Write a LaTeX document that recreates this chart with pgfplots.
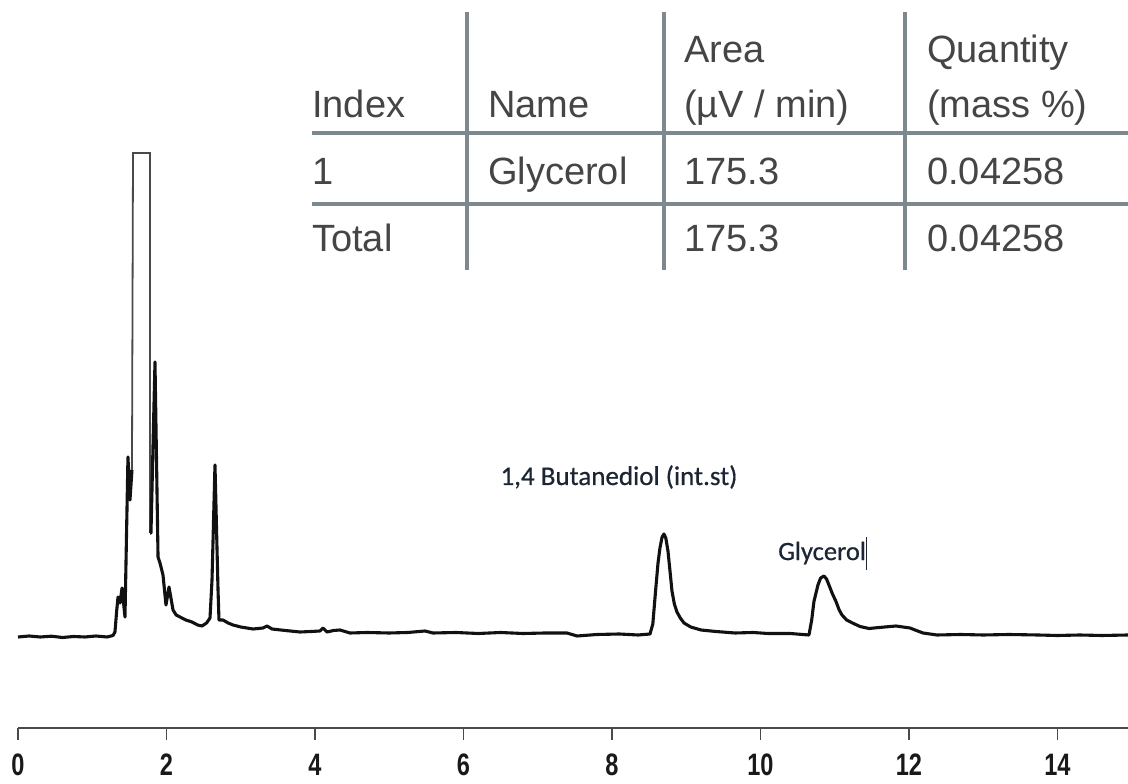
\documentclass[border=0pt]{standalone}
\usepackage{fontspec}
\setmainfont{Liberation Sans}
\newfontfamily\narrowfont[FakeStretch=0.76]{Liberation Sans Bold}
\newfontfamily\carlito[FakeBold=0.6]{Carlito}
\usepackage{pgfplots}
\pgfplotsset{compat=1.18}

\definecolor{tracecol}{HTML}{111111}
\definecolor{gridgray}{HTML}{7D898E}
\definecolor{tabtext}{HTML}{454545}
\definecolor{annot}{HTML}{1C2533}
\definecolor{axgray}{HTML}{4A4A4A}

\begin{document}
\begin{tikzpicture}[x=1pt,y=1pt]

\begin{axis}[
    at={(18pt,56pt)}, anchor=south west,
    scale only axis,
    width=1110pt, height=728pt,
    xmin=0, xmax=14.95,
    ymin=0, ymax=728,
    axis x line*=bottom,
    axis y line=none,
    ytick=\empty,
    xtick={0,2,...,14},
    tick align=outside,
    major tick length=12pt,
    x axis line style={axgray, line width=2.4pt},
    xtick style={axgray, line width=1.1pt},
    xticklabel style={font=\narrowfont\fontsize{31}{31}\selectfont, text=black!90, anchor=base, yshift=-36pt},
    /pgf/number format/assume math mode=true,
    clip=false,
]
% chromatogram trace (x: min, y: detector signal, arbitrary units)
\addplot [tracecol, line width=3.1pt, line join=round] coordinates {
  (0,91) (0.15,92) (0.3,91) (0.45,91.8) (0.6,90.5) (0.75,91.5) (0.9,91)
  (1.05,92) (1.2,91) (1.28,92.5) (1.306,96)
  (1.33,118) (1.347,131) (1.374,125) (1.401,140) (1.441,111)
  (1.481,271) (1.508,228) (1.535,258)
};
\addplot [axgray, line width=1.8pt, line join=miter] coordinates {
  (1.535,258) (1.549,575) (1.778,575) (1.778,195)
};
\addplot [tracecol, line width=3.1pt, line join=round] coordinates {
  (1.778,195) (1.791,195) (1.845,366) (1.886,171) (1.912,165) (1.953,153)
  (1.993,123) (2.034,141) (2.088,118) (2.13,113) (2.182,111) (2.26,108)
  (2.343,106) (2.42,103) (2.478,102) (2.54,105)
  (2.586,110) (2.613,148) (2.653,263) (2.694,138) (2.707,108) (2.761,108)
  (2.83,105) (2.896,103) (3.0,101) (3.165,99) (3.300,100) (3.354,102) (3.421,99)
  (3.6,97.5) (3.798,96) (3.95,96.5)
  (4.067,97) (4.108,100) (4.162,96) (4.25,97.5) (4.337,98) (4.471,95)
  (4.7,95.5) (5.0,95) (5.25,95.5)
  (5.481,97) (5.589,95) (5.9,95.5) (6.2,94.5) (6.5,95.5) (6.8,94.5) (7.1,95)
  (7.394,95) (7.529,92) (7.8,93.5) (8.1,94) (8.35,93) (8.512,94)
  (8.55,104) (8.587,137) (8.62,165) (8.646,180) (8.675,191) (8.700,194)
  (8.725,190) (8.754,177) (8.78,158) (8.808,137) (8.84,124)
  (8.875,116) (8.92,110) (8.970,105) (9.06,101) (9.199,98) (9.4,96.5) (9.657,95)
  (9.9,95.5) (10.101,94.5) (10.4,94.5) (10.653,93)
  (10.69,108) (10.720,126.5) (10.774,143) (10.81,150) (10.855,152) (10.89,149)
  (10.922,143) (10.97,134) (11.017,126.5) (11.06,118)
  (11.098,113) (11.16,108) (11.239,105) (11.34,101.5) (11.461,99.5) (11.6,100.5)
  (11.825,102) (12.013,100) (12.1,97.5)
  (12.189,95) (12.377,93) (12.7,93.5) (13.0,93) (13.35,93.5) (13.738,93)
  (14.0,92.5) (14.3,93) (14.6,92.5) (14.95,93)
};
\end{axis}

% peak annotations
\node[font=\carlito\fontsize{27}{27}\selectfont, text=annot] at (619,307) {1,4 Butanediol (int.st)};
\node[font=\carlito\fontsize{26.5}{26.5}\selectfont, text=annot, anchor=west, inner sep=0pt] at (778,231) {Glycerol};
\draw[annot, line width=1pt] (866,214) -- (866,247);

% result table
\begin{scope}[gridgray, line width=3.5pt]
  \draw (312,651) -- (1128,651);
  \draw (312,580) -- (1128,580);
  \draw (467,772) -- (467,514);
  \draw (664,772) -- (664,514);
  \draw (905,772) -- (905,514);
\end{scope}
\begin{scope}[every node/.style={anchor=base west, inner sep=0pt, text=tabtext, font=\fontsize{38}{38}\selectfont}]
  \node at (684,721) {Area};
  \node at (927,721) {Quantity};
  \node at (312,666) {Index};
  \node at (488,666) {Name};
  \node at (684,666) {(µV / min)};
  \node at (927,666) {(mass \%)};
  \node at (312,599) {1};
  \node at (488,599) {Glycerol};
  \node at (684,599) {175.3};
  \node at (927,599) {0.04258};
  \node at (312,532) {Total};
  \node at (684,532) {175.3};
  \node at (927,532) {0.04258};
\end{scope}

\pgfresetboundingbox
\path[use as bounding box] (0,0) rectangle (1128,784);
\end{tikzpicture}
\end{document}
